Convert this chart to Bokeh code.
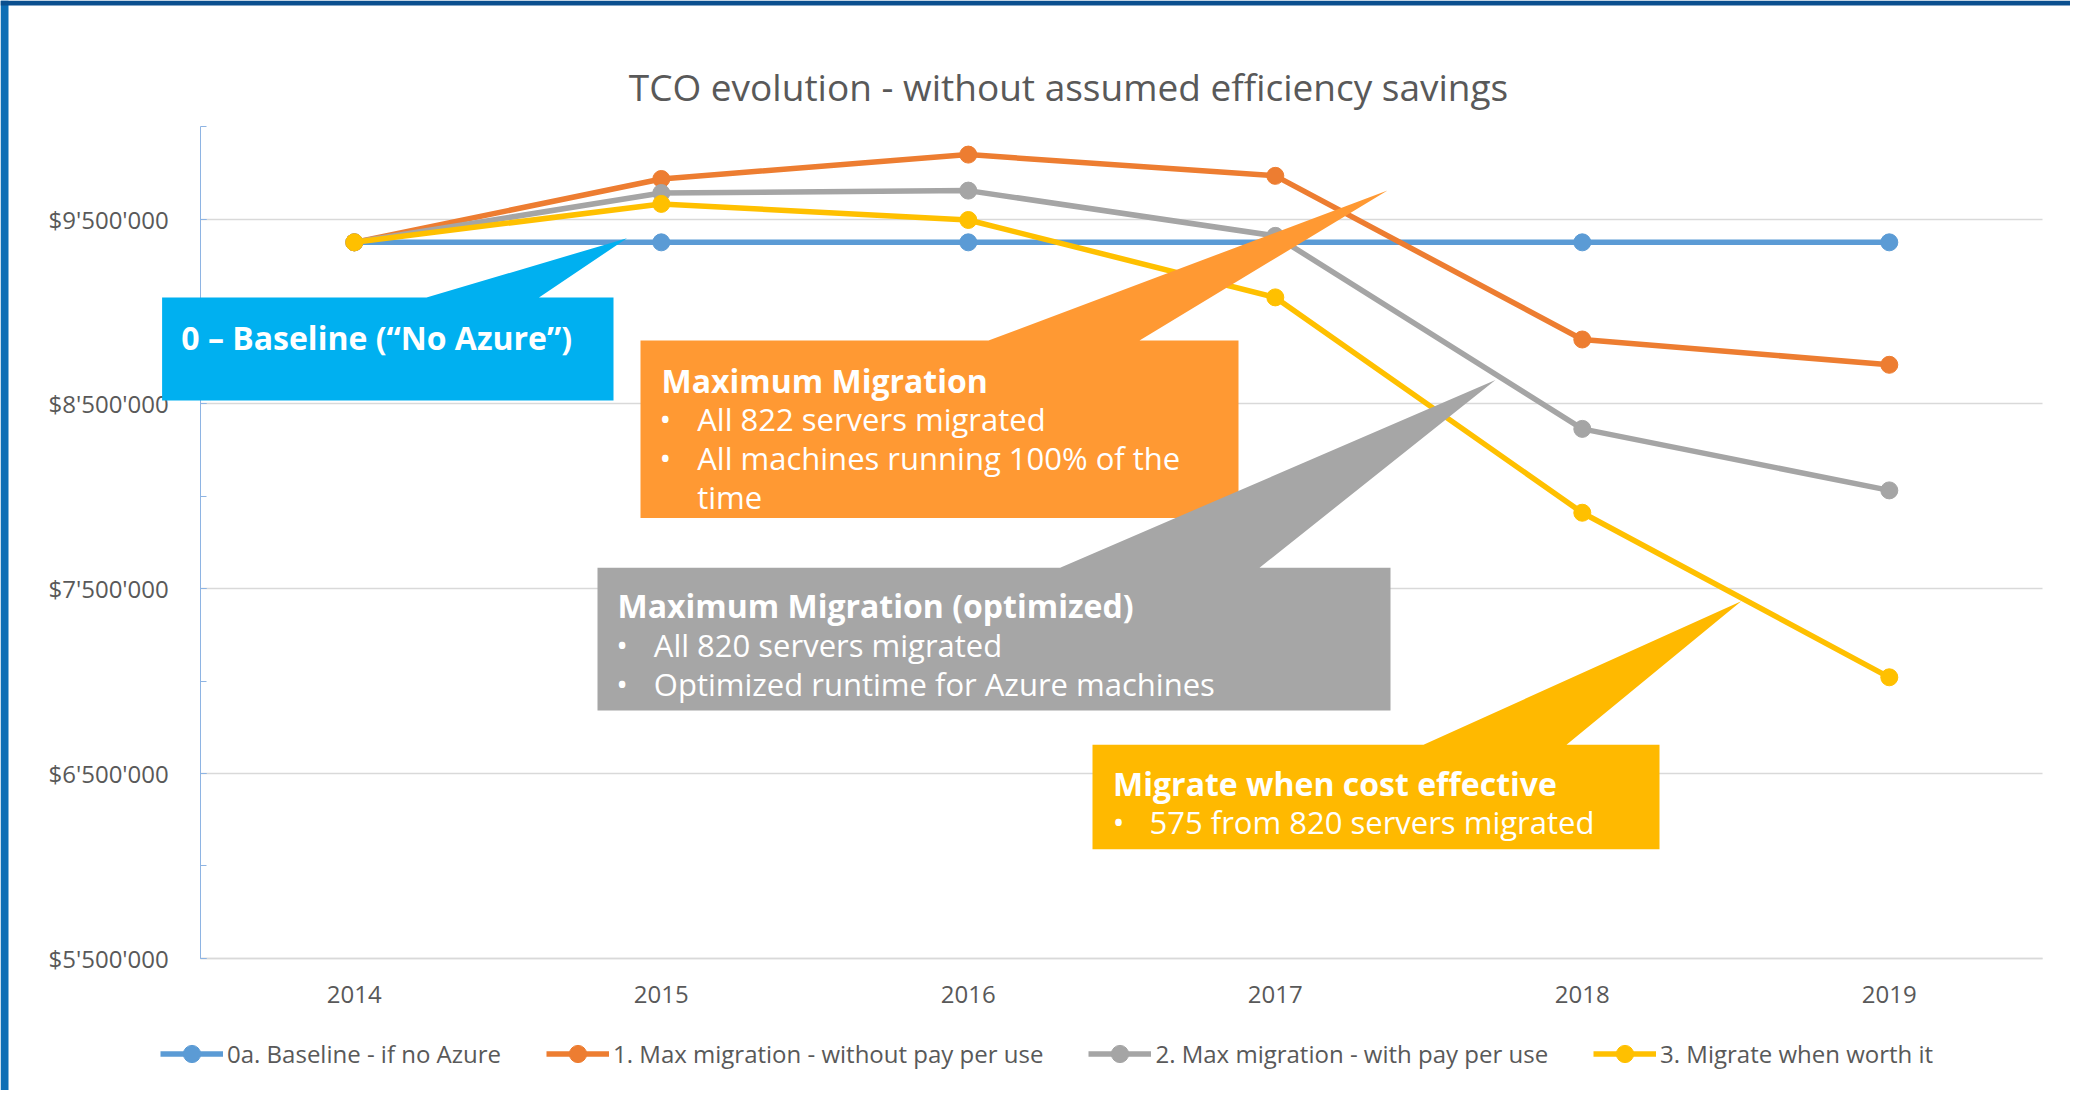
from bokeh.plotting import figure
from bokeh.models import (Range1d, FixedTicker, Legend, LegendItem, Label, LinearAxis,
                          Grid, PolyAnnotation, BoxAnnotation)
from bokeh.embed import file_html
from bokeh.resources import INLINE

# ---------------- data ----------------
years = ["2014", "2015", "2016", "2017", "2018", "2019"]
baseline = [9375000, 9375000, 9375000, 9375000, 9375000, 9375000]
max_no_ppu = [9375000, 9718000, 9850000, 9735000, 8849000, 8712000]
max_ppu = [9375000, 9642000, 9655000, 9410000, 8365000, 8032000]
worth_it = [9375000, 9583000, 9496000, 9077000, 7911000, 7020000]
series_names = ["0a. Baseline - if no Azure",
                "1. Max migration - without pay per use",
                "2. Max migration - with pay per use",
                "3. Migrate when worth it"]
ytick_values = [5500000, 6500000, 7500000, 8500000, 9500000]
ytick_labels = ["$5'500'000", "$6'500'000", "$7'500'000", "$8'500'000", "$9'500'000"]
yminor_values = [5500000, 6000000, 6500000, 7000000, 7500000, 8000000,
                 8500000, 9000000, 9500000, 10000000]
title_text = "TCO evolution - without assumed efficiency savings"

# ---------------- layout / style ----------------
FONT = "Open Sans"
TXT = "#595959"
COLORS = ["#5B9BD5", "#ED7D31", "#A5A5A5", "#FFC000"]
W, H = 2070, 1090
XC0, XSTEP = 353.8, 307.0          # pixel of first category, pixels per category
YPX_TOP, YPX_PER_M = 126.4, 184.7  # pixel of axis max, pixels per million
Y0, Y1 = 5500000, 10000000
TEXT_DY = -12                      # baseline correction for labels
xpos = list(range(len(years)))


def dx(px):
    return (px - XC0) / XSTEP


def dy(py):
    return Y1 - (py - YPX_TOP) / YPX_PER_M * 1e6


p = figure(width=W, height=H, x_range=Range1d(dx(0), dx(W)), y_range=Range1d(dy(H), dy(0)),
           x_axis_type=None, y_axis_type=None, title=None, min_border=0,
           output_backend="svg", toolbar_location=None,
           outline_line_color=None, background_fill_color="white",
           border_fill_color="white")

# grid (horizontal lines at labelled ticks)
grid_kw = dict(dimension=1, ticker=FixedTicker(ticks=ytick_values),
               grid_line_color="#D9D9D9", grid_line_width=1.5)
if "cross_bounds" in Grid.properties():
    grid_kw["cross_bounds"] = (xpos[0] - 0.5, xpos[-1] + 0.5)
p.add_layout(Grid(**grid_kw))

# y axis
yaxis = LinearAxis(fixed_location=xpos[0] - 0.5, bounds=(Y0, Y1),
                   ticker=FixedTicker(ticks=ytick_values, minor_ticks=yminor_values),
                   major_label_overrides={v: t for v, t in zip(ytick_values, ytick_labels)},
                   axis_line_color="#8EB4E3", major_tick_line_color="#8EB4E3",
                   minor_tick_line_color="#8EB4E3", major_tick_in=6, major_tick_out=0,
                   minor_tick_in=6, minor_tick_out=0, major_label_standoff=32)
# x axis
xaxis = LinearAxis(fixed_location=Y0, bounds=(xpos[0] - 0.5, xpos[-1] + 0.5),
                   ticker=FixedTicker(ticks=xpos),
                   major_label_overrides={i: y for i, y in zip(xpos, years)},
                   axis_line_color="#D9D9D9", axis_line_width=1.5,
                   major_tick_line_color=None, minor_tick_line_color=None,
                   major_tick_out=0, major_label_standoff=28)
for ax in (xaxis, yaxis):
    ax.major_label_text_font = FONT
    ax.major_label_text_font_size = "24px"
    ax.major_label_text_color = TXT
p.add_layout(yaxis, "left")
p.add_layout(xaxis, "below")

# series
items = []
for vals, color, name in zip([baseline, max_no_ppu, max_ppu, worth_it], COLORS, series_names):
    lr = p.line(x=xpos, y=vals, line_color=color, line_width=5.5)
    sr = p.scatter(x=xpos, y=vals, size=17, fill_color=color, line_color=color)
    items.append(LegendItem(label=name, renderers=[lr, sr]))

legend = Legend(items=items, orientation="horizontal", location=(160, H - 1074.5),
                glyph_width=63, glyph_height=43, label_height=24, label_standoff=4,
                spacing=45, padding=0, margin=0, border_line_alpha=0,
                background_fill_alpha=0, label_text_font=FONT,
                label_text_font_size="24px", label_text_color=TXT)
p.add_layout(legend)

# title
p.add_layout(Label(x=dx(1068), y=dy(98 + TEXT_DY), text=title_text, text_align="center",
                   text_baseline="alphabetic", text_font=FONT, text_font_size="37px",
                   text_color=TXT))

# slide frame (left and top blue strips)
p.add_layout(BoxAnnotation(right=dx(8), fill_color="#0D6EB5", fill_alpha=1, line_alpha=0))
p.add_layout(BoxAnnotation(bottom=dy(5), fill_color="#0A4F8F", fill_alpha=1, line_alpha=0))

# callouts: (box left, top, right, bottom), pointer base left/right, tip, colour
callouts = [
    ((161.6, 297, 613, 400), (426, 538.5), (626.5, 237.7), "#00B0F0"),
    ((640, 340, 1238, 517.5), (988, 1139), (1387, 190), "#FF9933"),
    ((597, 567.3, 1390, 710), (1059.6, 1259), (1495, 379.5), "#A6A6A6"),
    ((1092, 744.3, 1659, 848.7), (1423, 1566), (1740.7, 600.7), "#FFB900"),
]
for (l, t, r, b), (bl, br), (tx, ty), col in callouts:
    xs_px = [l, bl, tx, br, r, r, l]
    ys_px = [t, t, ty, t, t, b, b]
    p.add_layout(PolyAnnotation(xs=[dx(v) for v in xs_px], ys=[dy(v) for v in ys_px],
                                fill_color=col, fill_alpha=1.0, line_alpha=0))

# callout texts
head_texts = [
    (180.8, 349.3, "0 – Baseline (“No Azure”)"),
    (661, 391.7, "Maximum Migration"),
    (617, 617.3, "Maximum Migration (optimized)"),
    (1112.6, 795, "Migrate when cost effective"),
]
bullet_texts = [
    (664.8, 696.7, 430, "All 822 servers migrated"),
    (664.8, 696.7, 469.3, "All machines running 100% of the"),
    (None, 696.7, 508, "time"),
    (621.5, 653.3, 656.7, "All 820 servers migrated"),
    (621.5, 653.3, 695, "Optimized runtime for Azure machines"),
    (1118, 1149, 833.3, "575 from 820 servers migrated"),
]
for x, y, t in head_texts:
    p.add_layout(Label(x=dx(x), y=dy(y + TEXT_DY), text=t, text_align="left",
                       text_baseline="alphabetic", text_font=FONT,
                       text_font_style="bold", text_font_size="32px",
                       text_color="white"))
for bx, x, y, t in bullet_texts:
    if bx is not None:
        p.add_layout(Label(x=dx(bx), y=dy(y + TEXT_DY), text="•", text_align="center",
                           text_baseline="alphabetic", text_font=FONT,
                           text_font_size="31px", text_color="white"))
    p.add_layout(Label(x=dx(x), y=dy(y + TEXT_DY), text=t, text_align="left",
                       text_baseline="alphabetic", text_font=FONT,
                       text_font_size="31px", text_color="white"))

open("out.html", "w").write(file_html(p, INLINE))
